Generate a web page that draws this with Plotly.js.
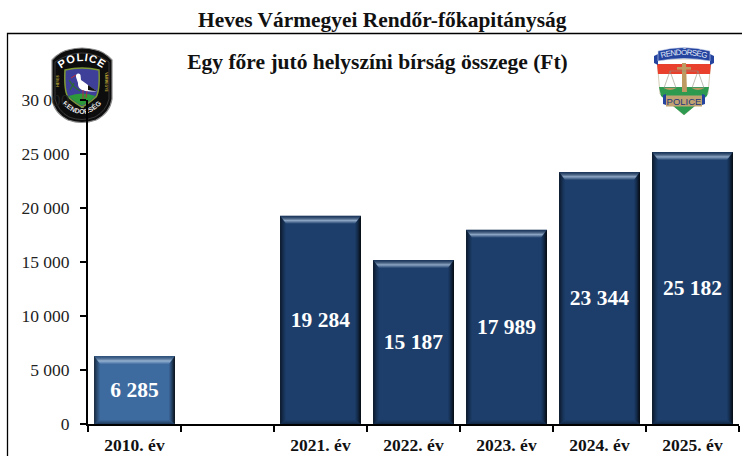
<!DOCTYPE html>
<html>
<head>
<meta charset="utf-8">
<script src="https://cdn.plot.ly/plotly-3.0.1.min.js"></script>
<style>html,body{margin:0;padding:0;background:#fff;overflow:hidden}#c{width:742px;height:456px}</style>
</head>
<body>
<div id="c"></div>
<script>
const categories = ['2010. év', ' ', '2021. év', '2022. év', '2023. év', '2024. év', '2025. év'];
const values = [6285, null, 19284, 15187, 17989, 23344, 25182];
const valueLabels = ['6 285', '', '19 284', '15 187', '17 989', '23 344', '25 182'];
const barColors = ['#3e6b9f', '#1d3e6a', '#1d3e6a', '#1d3e6a', '#1d3e6a', '#1d3e6a', '#1d3e6a'];
const yTicks = [0, 5000, 10000, 15000, 20000, 25000, 30000];
const yTickLabels = ['0', '5 000', '10 000', '15 000', '20 000', '25 000', '30 000'];
const headerText = 'Heves Vármegyei Rendőr-főkapitányság';
const titleText = 'Egy főre jutó helyszíni bírság összege (Ft)';

const W = 742, H = 456, L = 88, R = 739, T = 100, B = 424;
const px = x => (x - L) / (R - L);
const py = y => (B - y) / (B - T);
const serif = '"Liberation Serif","Times New Roman",serif';

const logoLeft = `<svg xmlns="http://www.w3.org/2000/svg" viewBox="0 0 64 77" width="256" height="308">
<path d="M2 13 Q10 4 20 2.5 Q32 -0.5 44 2.5 Q54 4 62 13 L62 52 Q60 66 46 73 Q32 78 18 73 Q4 66 2 52Z" fill="#0d0d0d" stroke="#8a8a8a" stroke-width="1.2"/>
<path d="M5 15 Q32 -3 59 15 L59 52 Q56 64 45 70 Q32 75 19 70 Q8 64 5 52Z" fill="none" stroke="#555" stroke-width=".6"/>
<defs><path id="a" d="M7 25 Q32 3 57 25"/><path id="b" d="M10 54 Q32 80 54 54"/><path id="d" d="M9 46 L9 22"/><path id="e" d="M55 20 L55 50"/></defs>
<text font-family="Liberation Sans" font-weight="700" font-size="11" fill="#fff" letter-spacing=".8"><textPath href="#a" startOffset="50%" text-anchor="middle">POLICE</textPath></text>
<text font-family="Liberation Sans" font-weight="700" font-size="6.8" fill="#e6e6e6" letter-spacing=".2"><textPath href="#b" startOffset="50%" text-anchor="middle">RENDŐRSÉG</textPath></text>
<text font-family="Liberation Sans" font-weight="700" font-size="3.4" fill="#c9b23c"><textPath href="#d" startOffset="50%" text-anchor="middle">HEVES</textPath></text>
<text font-family="Liberation Sans" font-weight="700" font-size="3.4" fill="#c9b23c"><textPath href="#e" startOffset="50%" text-anchor="middle">VÁRMEGYE</textPath></text>
<path d="M15 23 Q32 19 49 23 Q50 44 46 50 Q38 57 32 60 Q26 57 18 50 Q14 44 15 23Z" fill="#3d3f98" stroke="#7f9a35" stroke-width="1.5"/>
<path d="M18.5 49 Q32 44 45.5 49 Q38 56 32 58.5 Q26 56 18.5 49Z" fill="#2d9a3a"/>
<path d="M19 33 Q23 40 30 44 M24 36 L20 43" stroke="#2c6a35" stroke-width="1.4" fill="none"/>
<path d="M28.5 26.5 Q25.5 26.5 26 30 L28 36 Q27.5 41 32 43 Q39 45.5 47 44 Q41 41 38 38 Q34 35 31 33 L30.5 28 Q30 26.5 28.5 26.5Z" fill="#fff"/>
<path d="M38 38 Q42 41 47 44 Q42 44 38 43Z" fill="#111"/>
<path d="M33 43 L33 52 M37 44 L36 51" stroke="#b03040" stroke-width="1"/>
<path d="M26 28 L21 31" stroke="#c23040" stroke-width="1"/>
</svg>`;

const logoRight = `<svg xmlns="http://www.w3.org/2000/svg" viewBox="0 0 64 69" width="256" height="276">
<path d="M5 12 L59 12 L56 47 L32 68 L8 47Z" fill="#fff" stroke="#a89a70" stroke-width=".5"/>
<path d="M5 17 L59 17 L58 27 L6 27Z" fill="#e8402c"/>
<path d="M7 40 L57 40 L55 49 L32 68 L9 49Z" fill="#2d9a50"/>
<path d="M2 9 L6 7 L6 18 L2 16Z M62 9 L58 7 L58 18 L62 16Z" fill="#2444a0"/>
<path d="M6 4 Q32 -3 58 4 L58 14 Q32 9 6 14Z" fill="#2444a0" stroke="#cfd8ec" stroke-width=".6"/>
<defs><path id="c" d="M8 11.5 Q32 4.5 56 11.5"/></defs>
<text font-family="Liberation Sans" font-size="8" fill="#e3e9f7" textLength="46"><textPath href="#c" startOffset="50%" text-anchor="middle">RENDŐRSÉG</textPath></text>
<path d="M30 16 L34 16 L35 45 L30 45Z" fill="#bd9a62"/><rect x="25" y="20" width="14" height="2.6" fill="#bd9a62"/>
<path d="M18 24 L46 24 M18 24 L12 41 L24 41Z M46 24 L40 41 L52 41Z" fill="none" stroke="#8f8f80" stroke-width=".6"/>
<path d="M12 41 Q18 45 24 41Z M40 41 Q46 45 52 41Z" fill="#bd9a62"/>
<path d="M11 48 L14 47 L14 58 L11 57Z M53 48 L50 47 L50 58 L53 57Z" fill="#2444a0"/>
<rect x="14" y="48.5" width="36" height="11" fill="#c0a272"/>
<text x="32" y="57.5" font-family="Liberation Sans" font-size="9.5" fill="#22367a" text-anchor="middle">POLICE</text>
</svg>`;
const uri = s => 'data:image/svg+xml;charset=utf-8,' + encodeURIComponent(s);

const trace = {
  type: 'bar', x: categories, y: values,
  text: valueLabels, textposition: 'inside', insidetextanchor: 'middle', textangle: 0,
  textfont: {family: serif, size: 21.5, color: '#fff', weight: 700},
  marker: {color: barColors, line: {width: 0}},
  hoverinfo: 'skip', cliponaxis: false
};

const layout = {
  width: W, height: H,
  margin: {l: L, r: W - R, t: T, b: H - B, pad: 0},
  paper_bgcolor: '#fff', plot_bgcolor: 'rgba(0,0,0,0)',
  bargap: 0.13, showlegend: false,
  font: {family: serif, color: '#111'},
  title: {text: '<b>' + titleText + '</b>', font: {family: serif, size: 21.5, color: '#111'},
          x: 377.5 / W, xanchor: 'center', y: 1 - 61 / H, yanchor: 'middle'},
  xaxis: {type: 'category', categoryorder: 'array', categoryarray: categories, range: [-0.5, 6.5],
          tickson: 'boundaries', ticks: 'outside', ticklen: 6, tickwidth: 1.5, tickcolor: '#000',
          ticklabelstandoff: 4,
          showline: true, linewidth: 2, linecolor: '#000', showgrid: false, zeroline: false,
          tickangle: 0, tickfont: {family: serif, size: 17.5, color: '#111', weight: 700}},
  yaxis: {range: [0, 30000], tickvals: yTicks, ticktext: yTickLabels, ticks: 'outside', ticklen: 6, tickwidth: 1.5,
          ticklabelstandoff: 7,
          tickcolor: '#000', showline: true, linewidth: 2, linecolor: '#000', showgrid: false, zeroline: false,
          tickfont: {family: serif, size: 17.5, color: '#222'}},
  annotations: [{xref: 'paper', yref: 'paper', x: px(382.5), y: py(20.5), xanchor: 'center', yanchor: 'middle',
                 showarrow: false, text: '<b>' + headerText + '</b>', font: {family: serif, size: 21.4, color: '#111'}}],
  shapes: [{type: 'path', xref: 'paper', yref: 'paper', layer: 'below',
            path: `M ${px(7.5)} ${py(H + 5)} L ${px(7.5)} ${py(33.5)} L ${px(W + 5)} ${py(33.5)}`,
            line: {color: '#000', width: 1.3}}],
  images: [
    {source: uri(logoLeft), xref: 'paper', yref: 'paper', x: px(50), y: py(47), sizex: 64 / (R - L), sizey: 77 / (B - T),
     sizing: 'stretch', xanchor: 'left', yanchor: 'top', layer: 'below'},
    {source: uri(logoRight), xref: 'paper', yref: 'paper', x: px(652), y: py(47), sizex: 64 / (R - L), sizey: 69 / (B - T),
     sizing: 'stretch', xanchor: 'left', yanchor: 'top', layer: 'below'}
  ]
};

Plotly.newPlot('c', [trace], layout, {displayModeBar: false, staticPlot: true}).then(gd => {
  // bevel on each bar, positioned from the path the library drew
  const NS = 'http://www.w3.org/2000/svg';
  const svg = gd.querySelector('.main-svg');
  const defs = svg.querySelector('defs');
  const grad = (id, x2, y2, stops) => {
    const g = document.createElementNS(NS, 'linearGradient');
    g.id = id; g.setAttribute('x1', 0); g.setAttribute('y1', 0); g.setAttribute('x2', x2); g.setAttribute('y2', y2);
    stops.forEach(([o, c, a]) => {
      const s = document.createElementNS(NS, 'stop');
      s.setAttribute('offset', o); s.setAttribute('stop-color', c); s.setAttribute('stop-opacity', a);
      g.appendChild(s);
    });
    defs.appendChild(g);
  };
  grad('bvTop', 0, 1, [[0, '#0a1a30', .3], [.6, '#b7cde6', .72], [1, '#a9c2de', .05]]);
  grad('bvRight', 1, 0, [[0, '#0a1a30', .05], [1, '#000', .9]]);
  grad('bvLeft', 1, 0, [[0, '#000', .65], [1, '#0a1a30', .05]]);
  grad('bvBottom', 0, 1, [[0, '#0a1a30', .05], [1, '#0a1a30', .6]]);
  gd.querySelectorAll('.bars .point').forEach(pt => {
    const path = pt.querySelector('path');
    if (!path) return;
    const b = path.getBBox();
    if (!b.width || !b.height) return;
    const x0 = b.x, x1 = b.x + b.width, y0 = b.y, y1 = b.y + b.height, t = 8, s = 6, u = 4;
    const add = (pts, fill) => {
      const p = document.createElementNS(NS, 'polygon');
      p.setAttribute('points', pts.map(q => q.join(',')).join(' '));
      p.setAttribute('fill', 'url(#' + fill + ')');
      pt.insertBefore(p, path.nextSibling);
    };
    add([[x0, y1], [x0 + s, y1 - u], [x1 - s, y1 - u], [x1, y1]], 'bvBottom');
    add([[x0, y0], [x0 + s, y0 + t], [x0 + s, y1 - u], [x0, y1]], 'bvLeft');
    add([[x1 - s, y0 + t], [x1, y0], [x1, y1], [x1 - s, y1 - u]], 'bvRight');
    add([[x0, y0], [x1, y0], [x1 - s, y0 + t], [x0 + s, y0 + t]], 'bvTop');
  });
});
</script>
</body>
</html>
